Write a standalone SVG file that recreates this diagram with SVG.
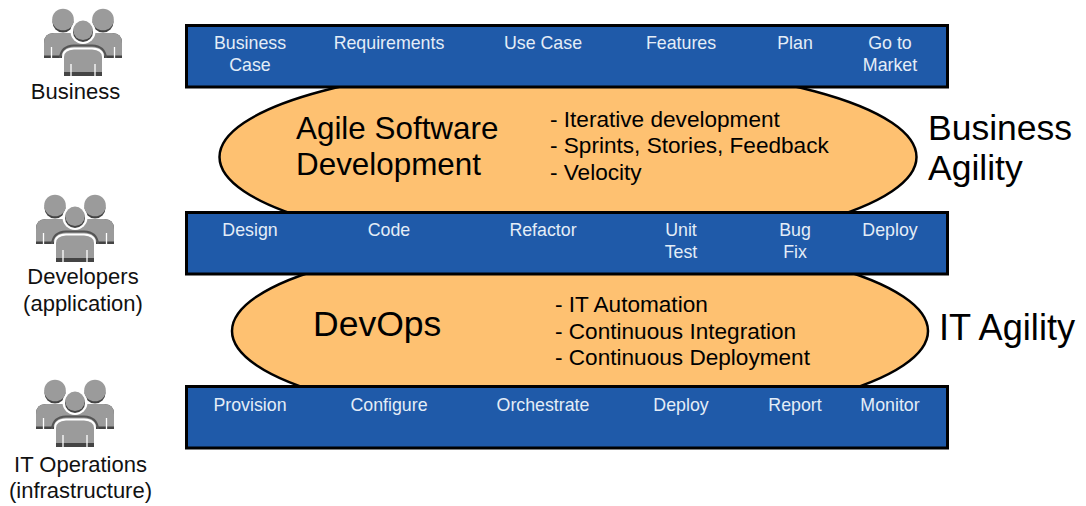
<svg xmlns="http://www.w3.org/2000/svg" xmlns:xlink="http://www.w3.org/1999/xlink" width="1086" height="506" viewBox="0 0 1086 506">
<style>
text{font-family:"Liberation Sans",Arial,sans-serif}
.bar{fill:#1f5aa9;stroke:#000;stroke-width:3}
.ell{fill:#fec171;stroke:#000;stroke-width:2.5}
.w{fill:#e4edf7;font-size:17.8px;text-anchor:middle}
.l{fill:#111;font-size:22px;text-anchor:middle}
.m{fill:#000;font-size:22.6px}
.b{fill:#000;font-size:31.400px}
.c{fill:#000;font-size:35.500px}
.i{fill:#000;font-size:36.200px}
.g{fill:#9b9b9b}
.d{fill:#444}
.s{stroke:#fff;stroke-width:1.300;fill:none}
</style>
<defs>
<g id="head">
<circle class="d" cx="0" cy="2.500" r="10.500"/>
<circle class="g" cx="0" cy="0" r="10.800"/>
</g>
<g id="people">
<use xlink:href="#head" x="19" y="9.500"/>
<use xlink:href="#head" x="59" y="9.500"/>
<path class="d" d="M0 48V33Q0 23 10 23H68Q78 23 78 33V48Z"/>
<path class="g" d="M0 45.500V33Q0 23 10 23H68Q78 23 78 33V45.500Z"/>
<path class="s" d="M7.500 37V48M70.500 37V48"/>
<path d="M16 48Q17 36 30 35.500H48Q61 36 62 48" fill="none" stroke="#555" stroke-width="2"/>
<path d="M18 67V47Q18 38 30 37.500H48Q60 38 60 47V67Z" fill="#fff"/>
<path class="d" d="M20 66V62H58V66Z"/>
<path class="g" d="M20 62V47Q20 40 30 39.500H48Q58 40 58 47V62Z"/>
<path class="s" d="M27 54V66M51 54V66"/>
<circle cx="39" cy="21.500" r="12.500" fill="#fff"/>
<circle class="d" cx="39" cy="22" r="10"/>
<circle class="g" cx="39" cy="20.300" r="9.700"/>
</g>
</defs>
<g id="ellipse-agile"><ellipse class="ell" cx="568" cy="157" rx="348.5" ry="93"/></g>
<g id="ellipse-devops"><ellipse class="ell" cx="580" cy="331" rx="348" ry="93"/></g>
<g id="bar-business">
<rect class="bar" x="186.500" y="25.500" width="761" height="61.500"/>
<text class="w" x="250" y="48.500">Business</text><text class="w" x="250" y="70.500">Case</text>
<text class="w" x="389" y="48.500">Requirements</text>
<text class="w" x="543" y="48.500">Use Case</text>
<text class="w" x="681" y="48.500">Features</text>
<text class="w" x="795" y="48.500">Plan</text>
<text class="w" x="890" y="48.500">Go to</text><text class="w" x="890" y="70.500">Market</text>
</g>
<g id="bar-developers">
<rect class="bar" x="186.500" y="212.500" width="761" height="61.500"/>
<text class="w" x="250" y="235.500">Design</text>
<text class="w" x="389" y="235.500">Code</text>
<text class="w" x="543" y="235.500">Refactor</text>
<text class="w" x="681" y="235.500">Unit</text><text class="w" x="681" y="257.500">Test</text>
<text class="w" x="795" y="235.500">Bug</text><text class="w" x="795" y="257.500">Fix</text>
<text class="w" x="890" y="235.500">Deploy</text>
</g>
<g id="bar-operations">
<rect class="bar" x="186.500" y="386.500" width="761" height="61.500"/>
<text class="w" x="250" y="410.500">Provision</text>
<text class="w" x="389" y="410.500">Configure</text>
<text class="w" x="543" y="410.500">Orchestrate</text>
<text class="w" x="681" y="410.500">Deploy</text>
<text class="w" x="795" y="410.500">Report</text>
<text class="w" x="890" y="410.500">Monitor</text>
</g>
<g id="label-agile">
<text class="b" x="296" y="139">Agile Software</text>
<text class="b" x="296" y="175">Development</text>
<text class="m" x="550" y="127">- Iterative development</text>
<text class="m" x="550" y="153">- Sprints, Stories, Feedback</text>
<text class="m" x="550" y="180">- Velocity</text>
</g>
<g id="label-devops">
<text class="c" x="313" y="336">DevOps</text>
<text class="m" x="555" y="312">- IT Automation</text>
<text class="m" x="555" y="339">- Continuous Integration</text>
<text class="m" x="555" y="365">- Continuous Deployment</text>
</g>
<g id="label-business-agility">
<text class="c" x="928" y="140">Business</text>
<text class="c" x="928" y="180">Agility</text>
</g>
<g id="label-it-agility"><text class="i" x="939" y="340">IT Agility</text></g>
<g id="actor-business">
<use xlink:href="#people" x="44" y="10"/>
<text class="l" x="75.500" y="98.500">Business</text>
</g>
<g id="actor-developers">
<use xlink:href="#people" x="36" y="196"/>
<text class="l" x="83" y="284">Developers</text><text class="l" x="83" y="310.500">(application)</text>
</g>
<g id="actor-operations">
<use xlink:href="#people" x="36" y="381"/>
<text class="l" x="80.500" y="472">IT Operations</text><text class="l" x="80.500" y="498">(infrastructure)</text>
</g>
</svg>
